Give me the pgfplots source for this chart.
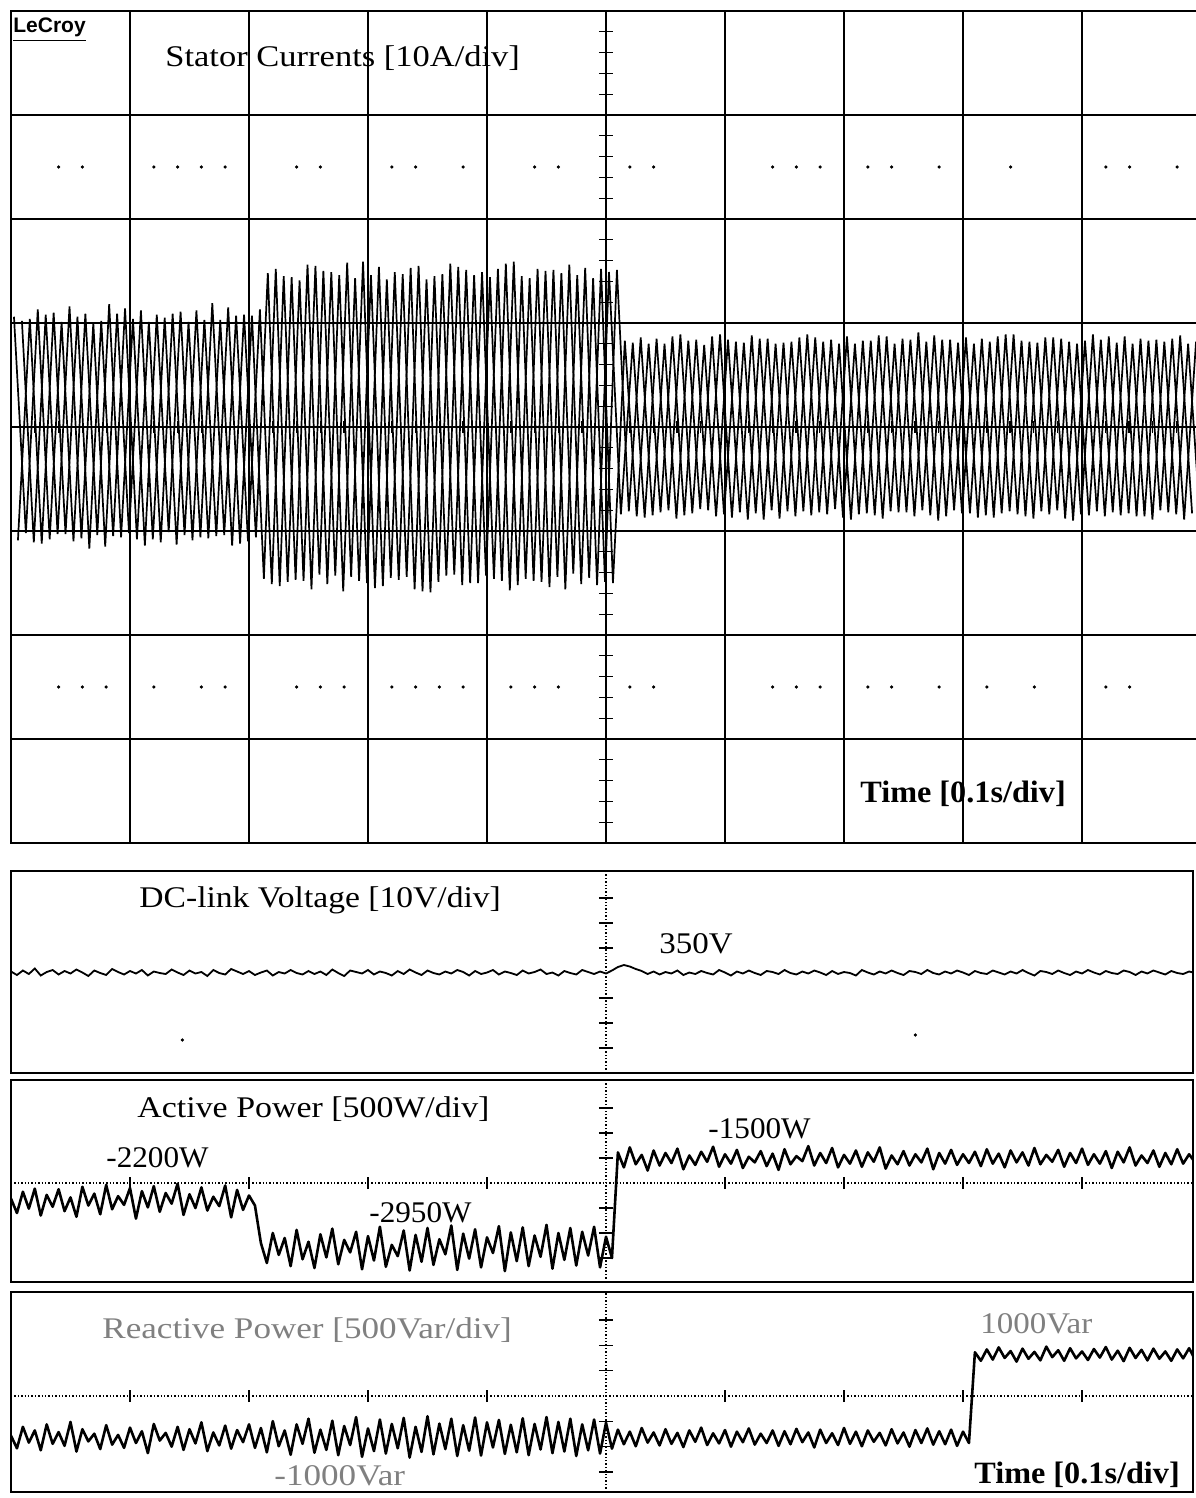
\documentclass[border=0pt]{standalone}
\usepackage{pgfplots}
\pgfplotsset{compat=1.18}
\usepackage{pgfplotstable}
\usepackage{fontspec}
\setmainfont{Liberation Serif}
\newfontfamily\scopefont{Liberation Sans}

% Stator phase currents [A]: successive half-cycle extremes (50 Hz, one row per 10 ms)
\pgfplotstableread{
a b c
10.6 10.2 -10.9
-10.2 -11.1 10.4
11.3 10.8 -11.2
-10.8 -10.3 11.0
10.1 11.6 -10.3
-11.0 -10.7 10.6
10.9 10.0 -11.7
-10.4 -11.5 10.2
11.8 10.9 -10.5
-10.6 -10.2 11.4
10.4 11.2 -10.8
-11.4 -10.8 10.1
10.8 10.5 -11.1
-10.1 -11.3 10.9
11.1 10.1 -10.4
-10.9 -10.6 11.2
10.3 11.9 -10.7
-10.5 -10.4 10.3
11.5 10.7 -11.4
-11.2 -11.0 10.8
10.7 11.3 -10.6
-14.6 -15.1 14.8
15.2 14.5 -15.3
-14.9 -14.7 14.4
14.1 15.6 -14.8
-15.6 -14.2 15.5
15.0 14.9 -15.1
-14.3 -15.8 14.6
15.8 14.3 -14.4
-14.8 -15.0 15.9
14.6 15.4 -15.5
-15.3 -14.5 14.2
14.9 14.7 -14.7
-14.4 -15.6 15.3
15.5 14.2 -15.8
-15.9 -14.9 14.5
14.7 15.7 -14.3
-14.2 -15.2 15.4
15.1 14.6 -15.0
-15.0 -14.3 14.9
14.4 15.2 -14.6
-14.8 -15.7 15.7
15.9 14.5 -15.2
-14.6 -14.8 14.3
15.2 15.0 -14.9
-15.4 -14.4 15.1
14.8 15.6 -15.6
-14.1 -15.1 14.6
15.3 14.3 -14.5
-15.2 -14.9 15.2
14.9 15.1 -15.0
-8.4 -8.1 8.3
8.1 8.6 -8.6
-8.7 -8.5 8.0
8.5 8.0 -8.2
-8.0 -8.8 8.7
8.9 8.3 -8.5
-8.3 -7.9 8.4
7.9 8.7 -8.0
-8.6 -8.4 8.9
8.4 8.2 -8.7
-8.2 -8.9 8.1
8.8 8.5 -8.3
-8.9 -8.0 8.5
8.0 8.1 -8.8
-8.1 -8.6 8.2
8.6 8.9 -8.1
-8.5 -8.2 8.6
8.2 8.4 -8.4
-7.9 -8.7 8.0
8.7 8.0 -8.9
-8.4 -8.3 8.3
8.3 8.8 -8.5
-8.8 -8.1 8.7
8.0 8.5 -8.2
-8.2 -8.6 8.4
9.1 8.2 -8.0
-8.5 -9.0 8.8
8.4 8.4 -8.6
-8.0 -8.3 8.1
8.6 8.0 -8.3
-8.7 -8.5 8.5
8.2 8.7 -8.7
-8.3 -8.1 8.9
8.9 8.3 -8.4
-8.6 -8.8 8.2
8.1 8.6 -8.1
-8.4 -8.0 8.6
8.5 8.2 -8.8
-9.0 -8.4 8.0
8.3 8.9 -8.5
-8.1 -8.6 8.4
8.7 8.1 -8.2
-8.5 -8.3 8.7
8.0 8.5 -8.6
-8.6 -8.9 8.3
8.4 8.2 -8.0
-8.2 -8.4 8.5
8.8 8.0 -8.9
-8.3 -8.7 8.2
}\currents

% DC-link voltage [V], active power [W], reactive power [Var]; one row per 5 ms
\pgfplotstableread{
dc p q
350.3 -2150 -980
349.6 -2380 -1290
350.5 -2040 -760
349.8 -2310 -1150
350.9 -1990 -850
349.5 -2420 -1340
350.2 -2090 -700
350.6 -2280 -1180
349.7 -2000 -890
350.4 -2350 -1230
349.9 -2130 -640
350.7 -2440 -1370
350.1 -1960 -820
349.4 -2260 -1120
350.5 -2070 -930
350.0 -2400 -1310
349.6 -1930 -720
350.8 -2320 -1200
350.2 -2110 -960
349.7 -2250 -1280
350.4 -1980 -780
349.9 -2470 -1160
350.6 -2030 -870
349.5 -2290 -1410
350.3 -1950 -690
350.0 -2360 -1100
349.8 -2060 -910
350.7 -2230 -1250
350.1 -1910 -760
349.6 -2410 -1330
350.5 -2080 -820
349.9 -2300 -1170
350.2 -1970 -650
349.4 -2340 -1360
350.6 -2120 -900
350.0 -2270 -1220
349.7 -1940 -730
350.8 -2450 -1300
350.3 -2010 -840
349.8 -2330 -1140
350.4 -2100 -700
349.6 -2260 -1280
350.1 -2860 -790
350.5 -3180 -1390
349.5 -2700 -620
350.2 -3050 -1240
349.9 -2780 -850
350.6 -3230 -1450
350.0 -2650 -700
349.7 -3120 -1180
350.4 -2840 -560
349.8 -3260 -1400
350.3 -2720 -830
349.6 -3090 -1330
350.7 -2630 -610
350.0 -3200 -1460
349.4 -2810 -740
350.5 -3010 -1210
350.2 -2680 -520
349.9 -3280 -1500
350.6 -2750 -800
349.7 -3140 -1360
350.3 -2600 -580
350.0 -3240 -1420
349.5 -2890 -690
350.4 -3070 -1290
349.8 -2660 -540
350.7 -3300 -1520
350.1 -2730 -760
349.6 -3160 -1380
350.5 -2620 -500
350.0 -3210 -1440
349.7 -2800 -680
350.3 -3040 -1310
349.9 -2580 -560
350.6 -3290 -1480
350.2 -2710 -720
349.5 -3110 -1350
350.4 -2640 -530
349.8 -3250 -1470
350.1 -2770 -650
350.6 -3020 -1270
349.7 -2590 -590
350.3 -3310 -1430
350.0 -2690 -710
349.6 -3150 -1390
350.5 -2610 -550
349.9 -3230 -1460
350.2 -2740 -690
350.7 -3080 -1320
349.8 -2570 -520
350.1 -3270 -1410
349.5 -2700 -640
350.4 -3130 -1370
350.0 -2620 -560
349.7 -3220 -1480
350.6 -2680 -700
350.2 -3060 -1340
349.8 -2600 -580
350.3 -3250 -1420
349.9 -2760 -660
350.5 -3100 -1300
351.2 -1410 -830
351.6 -1650 -1190
351.3 -1330 -880
350.8 -1600 -1240
350.4 -1450 -790
349.8 -1700 -1150
350.3 -1380 -900
349.7 -1620 -1220
350.2 -1420 -820
349.9 -1580 -1180
350.5 -1350 -910
349.6 -1680 -1260
350.1 -1460 -850
349.8 -1610 -1130
350.4 -1400 -780
350.0 -1560 -1210
349.7 -1320 -920
350.6 -1640 -1170
350.1 -1440 -840
349.5 -1590 -1250
350.3 -1370 -880
349.9 -1660 -1140
350.5 -1480 -800
350.0 -1570 -1200
349.6 -1390 -930
350.4 -1630 -1160
350.2 -1430 -850
349.8 -1690 -1230
350.6 -1360 -870
350.0 -1600 -1190
349.7 -1470 -810
350.3 -1550 -1140
349.9 -1310 -900
350.5 -1620 -1270
350.1 -1420 -830
349.6 -1580 -1160
350.4 -1340 -920
349.8 -1650 -1210
350.2 -1450 -790
350.0 -1590 -1180
349.5 -1380 -880
350.6 -1640 -1240
350.1 -1410 -850
349.7 -1560 -1130
350.3 -1330 -910
349.9 -1670 -1220
350.5 -1460 -820
350.0 -1600 -1170
349.6 -1390 -900
350.4 -1620 -1250
350.2 -1440 -840
349.8 -1570 -1160
350.6 -1350 -800
350.0 -1680 -1200
349.7 -1420 -870
350.3 -1590 -1190
349.9 -1370 -830
350.5 -1610 -1230
350.1 -1440 -880
349.6 -1580 -1160
350.4 -1400 1080
350.0 -1630 870
349.8 -1360 1150
350.5 -1590 900
350.1 -1430 1200
349.7 -1650 940
350.3 -1380 1110
349.9 -1570 850
350.6 -1410 1170
350.0 -1620 920
349.5 -1340 1090
350.4 -1600 880
350.2 -1450 1220
349.8 -1560 960
350.5 -1370 1130
350.0 -1640 870
349.6 -1420 1180
350.3 -1580 930
349.9 -1350 1100
350.6 -1610 890
350.1 -1440 1160
349.7 -1590 950
350.4 -1390 1210
350.0 -1660 900
349.8 -1400 1120
350.5 -1570 860
350.2 -1330 1190
349.6 -1620 940
350.3 -1460 1140
349.9 -1580 880
350.5 -1380 1170
350.1 -1640 920
349.7 -1420 1100
350.4 -1600 870
350.0 -1360 1150
349.8 -1590 930
350.3 -1440 1180
350.0 -1570 900
}\scopedata

\tikzset{
  tr/.style={black, line width=1.3pt, line join=round},
  ph/.style={black, line width=0.85pt},
  tk/.style={black, line width=0.6pt},
  cl/.style={black, line width=0.7pt, densely dotted},
}
\pgfplotsset{
  panel/.style={scale only axis, anchor=north west, xmin=0,
    axis line style={black, line width=0.8pt}},
}

\newcommand\ttl[2][1.15]{\fontsize{15}{18}\selectfont\scalebox{#1}[1]{#2}}
\newcommand\tme{\fontsize{15.5}{18}\selectfont\bfseries\scalebox{1.04}[1]{Time [0.1s/div]}}

\begin{document}
\begin{tikzpicture}
\path[use as bounding box] (0,0) rectangle (597.5pt,-749pt);

% ---- stator currents, 10 A/div, 0.1 s/div ----
\begin{axis}[panel, at={(5.5pt,-5.5pt)}, width=595pt, height=416pt,
  xmax=1, ymin=-40, ymax=40,
  xtick={0.1,0.2,...,0.9}, ytick={-30,-20,...,30}, grid=major,
  major grid style={black, line width=0.65pt},
  tick style={draw=none}, xticklabels={}, yticklabels={}]
  \pgfplotsinvokeforeach{-38,-36,...,38}{\draw[tk] (axis cs:0.4941,#1) -- (axis cs:0.5059,#1);}
  \pgfplotsinvokeforeach{0.02,0.04,...,0.98}{\draw[tk] (axis cs:#1,-0.6) -- (axis cs:#1,0.6);}
  \addplot[ph] table[x expr=0.0025+0.01*\coordindex, y=a] {\currents};
  \addplot[ph] table[x expr=0.00917+0.01*\coordindex, y=b] {\currents};
  \addplot[ph] table[x expr=0.00583+0.01*\coordindex, y=c] {\currents};
  % display dot rows
  \addplot[only marks, mark=*, mark size=0.6pt, black] coordinates {
    (0.04,25) (0.06,25) (0.12,25) (0.14,25) (0.16,25) (0.18,25) (0.24,25) (0.26,25)
    (0.32,25) (0.34,25) (0.38,25) (0.44,25) (0.46,25) (0.52,25) (0.54,25) (0.64,25)
    (0.66,25) (0.68,25) (0.72,25) (0.74,25) (0.78,25) (0.84,25) (0.92,25) (0.94,25) (0.98,25)
    (0.04,-25) (0.06,-25) (0.08,-25) (0.12,-25) (0.16,-25) (0.18,-25) (0.24,-25) (0.26,-25)
    (0.28,-25) (0.32,-25) (0.34,-25) (0.36,-25) (0.38,-25) (0.42,-25) (0.44,-25) (0.46,-25)
    (0.52,-25) (0.54,-25) (0.64,-25) (0.66,-25) (0.68,-25) (0.72,-25) (0.74,-25) (0.78,-25)
    (0.82,-25) (0.86,-25) (0.92,-25) (0.94,-25)};
\end{axis}

% ---- DC-link voltage ----
\begin{axis}[panel, at={(5.5pt,-435.5pt)}, width=591pt, height=101pt,
  xmax=0.99328, ymin=330, ymax=370.4, xtick=\empty, ytick=\empty]
  \draw[cl] (axis cs:0.5,330) -- (axis cs:0.5,370.4);
  \pgfplotsinvokeforeach{335,340,345,355,360,365}{\draw[tk] (axis cs:0.4941,#1) -- (axis cs:0.5059,#1);}
  \addplot[black, line width=0.9pt] table[x expr=0.005*\coordindex, y=dc] {\scopedata};
  \addplot[only marks, mark=*, mark size=0.6pt, black] coordinates {(0.144,336.6) (0.760,337.6)};
\end{axis}

% ---- active power ----
\begin{axis}[panel, at={(5.5pt,-540pt)}, width=591pt, height=101pt,
  xmax=0.99328, ymin=-3484, ymax=-252, xtick=\empty, ytick=\empty]
  \draw[cl] (axis cs:0.5,-3484) -- (axis cs:0.5,-252);
  \draw[cl] (axis cs:0,-1900) -- (axis cs:0.99328,-1900);
  \pgfplotsinvokeforeach{-3100,-2700,-2300,-1500,-1100,-700}{\draw[tk] (axis cs:0.4941,#1) -- (axis cs:0.5059,#1);}
  \pgfplotsinvokeforeach{0.1,0.2,0.3,0.4,0.6,0.7,0.8,0.9}{\draw[tk] (axis cs:#1,-1996) -- (axis cs:#1,-1804);}
  \addplot[tr] table[x expr=0.005*\coordindex, y=p] {\scopedata};
\end{axis}

% ---- reactive power ----
\begin{axis}[panel, at={(5.5pt,-646pt)}, width=591pt, height=100pt,
  xmax=0.99328, ymin=-2370, ymax=2568, xtick=\empty, ytick=\empty]
  \draw[cl] (axis cs:0.5,-2370) -- (axis cs:0.5,2568);
  \draw[cl] (axis cs:0,0) -- (axis cs:0.99328,0);
  \pgfplotsinvokeforeach{-1875,-1250,-625,625,1250,1875}{\draw[tk] (axis cs:0.4941,#1) -- (axis cs:0.5059,#1);}
  \pgfplotsinvokeforeach{0.1,0.2,0.3,0.4,0.6,0.7,0.8,0.9}{\draw[tk] (axis cs:#1,-148) -- (axis cs:#1,148);}
  \addplot[tr] table[x expr=0.005*\coordindex, y=q] {\scopedata};
\end{axis}

% ---- annotations ----
\node[anchor=base west, inner sep=0pt] at (6.5pt,-16.5pt)
  {\scopefont\fontsize{10.5}{12}\selectfont\bfseries\underline{LeCroy}};
\node[anchor=base west, inner sep=0pt] at (82.5pt,-33.5pt) {\ttl{Stator Currents [10A/div]}};
\node[anchor=base west, inner sep=0pt] at (430pt,-401pt) {\tme};
\node[anchor=base west, inner sep=0pt] at (69.5pt,-453.5pt) {\ttl[1.12]{DC-link Voltage [10V/div]}};
\node[anchor=base west, inner sep=0pt] at (329.5pt,-476.5pt) {\ttl[1.1]{350V}};
\node[anchor=base west, inner sep=0pt] at (68.5pt,-558.5pt) {\ttl[1.13]{Active Power [500W/div]}};
\node[anchor=base west, inner sep=0pt] at (53pt,-583.5pt) {\ttl[1.04]{-2200W}};
\node[anchor=base west, inner sep=0pt] at (184.5pt,-611pt) {\ttl[1.04]{-2950W}};
\node[anchor=base west, inner sep=0pt] at (354pt,-569pt) {\ttl[1.04]{-1500W}};
\node[anchor=base west, inner sep=0pt, text=black!50] at (51pt,-669pt) {\ttl[1.17]{Reactive Power [500Var/div]}};
\node[anchor=base west, inner sep=0pt, text=black!50] at (490pt,-666.5pt) {\ttl[1.1]{1000Var}};
\node[anchor=base west, inner sep=0pt, text=black!50] at (137pt,-742.5pt) {\ttl[1.17]{-1000Var}};
\node[anchor=base west, inner sep=0pt] at (487pt,-741.5pt) {\tme};
\end{tikzpicture}
\end{document}
